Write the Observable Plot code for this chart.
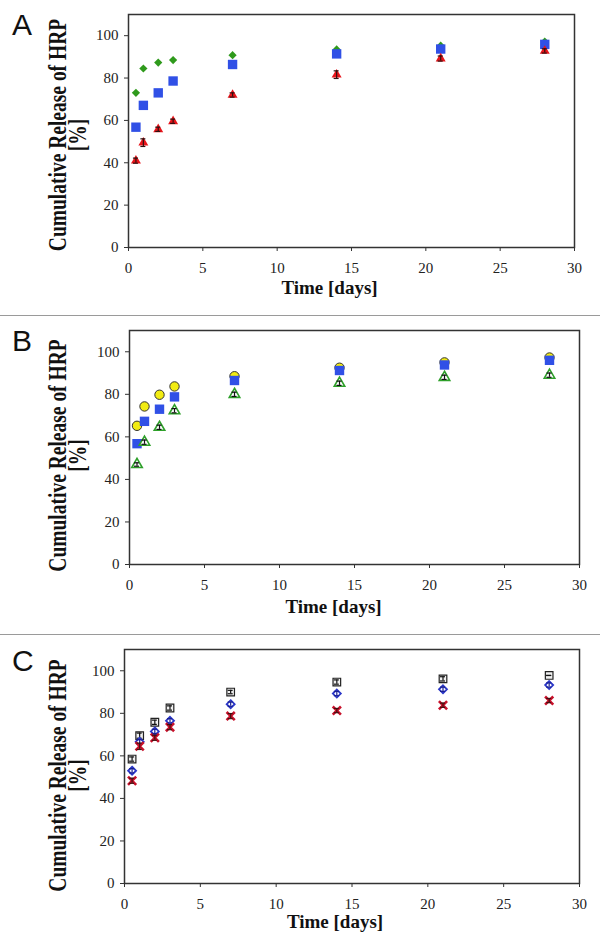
<!DOCTYPE html>
<html>
<head>
<meta charset="utf-8">
<script src="https://cdn.jsdelivr.net/npm/d3@7"></script>
<script src="https://cdn.jsdelivr.net/npm/@observablehq/plot@0.6"></script>
<style>
  body { margin: 0; background: white; }
  #root { position: relative; width: 600px; height: 952px; background: white; overflow: hidden; }
  .panel { position: absolute; left: 0; width: 600px; }
  .panel svg { display: block; }
  .panel svg text { font-family: "Liberation Serif", "Times New Roman", serif !important; }
  .lbl { position: absolute; left: 12px; font-family: "Liberation Sans", Arial, sans-serif; font-size: 30px; line-height: 30px; color: #111; }
  .sep { position: absolute; left: 0; width: 600px; height: 1px; background: #9a9a9a; }
</style>
</head>
<body>
<div id="root"></div>
<script>
// ---------- data ----------
const days = [0.5, 1, 2, 3, 7, 14, 21, 28];
const xTicks = [0, 5, 10, 15, 20, 25, 30];
const yTicks = [0, 20, 40, 60, 80, 100];
const xTitle = "Time [days]";
const yTitle = "Cumulative Release of HRP\n[%]";
const panelLabels = ["A", "B", "C"];

// Panel A
const aGreen = [73, 84.5, 87.3, 88.5, 90.8, 93.5, 95.3, 97.2];
const aBlue  = [56.8, 67.1, 73, 78.6, 86.4, 91.4, 93.7, 95.9];
const aRed   = [41, 49.5, 55.8, 59.6, 72, 81.6, 89.2, 92.8];
const aRedErr = [1.2, 1.8, 1, 1, 1, 1.8, 1.2, 1];

// Panel B
const bYellow = [65.2, 74.3, 79.8, 83.7, 88.5, 92.5, 95, 97.3];
const bBlue   = [56.8, 67.3, 73, 78.8, 86.5, 91.2, 93.8, 96];
const bGreen  = [47, 57.5, 64.5, 72.3, 80, 85.2, 88, 89];
const bGreenErr = [0.8, 1, 1, 1, 1, 1, 1, 1];

// Panel C
const cBlack = [58.5, 69.5, 75.8, 82.5, 90, 94.7, 96.2, 97.8];
const cBlue  = [53, 66.6, 71.5, 76.5, 84.3, 89.3, 91.3, 93.3];
const cRed   = [48.3, 64.5, 68.5, 73.5, 78.7, 81.3, 83.8, 86];
const cBlackErr = [1, 1.2, 1, 1, 0.8, 1, 1, 0];
const cBlueErr  = [1, 1, 1, 1, 1, 1, 1, 1];
const cRedErr   = [1.2, 1.5, 1.2, 1.2, 1.2, 1, 1, 1];

// ---------- helpers ----------
const SERIF = "'Liberation Serif', 'Times New Roman', serif";
const rows = (vals, err) => days.map((d, i) => ({x: d, y: vals[i], e: err ? err[i] : 0}));

function errMarks(data, color) {
  return [
    Plot.ruleX(data, {x: "x", y1: d => d.y - d.e, y2: d => d.y + d.e, stroke: color, strokeWidth: 1.2}),
    Plot.ruleY(data, {y: d => d.y + d.e, x1: "x", x2: "x", insetLeft: -2.5, insetRight: -2.5, stroke: color, strokeWidth: 1.2}),
    Plot.ruleY(data, {y: d => d.y - d.e, x1: "x", x2: "x", insetLeft: -2.5, insetRight: -2.5, stroke: color, strokeWidth: 1.2})
  ];
}

function makePanel(cfg) {
  const marks = [
    Plot.frame({stroke: "#333", strokeWidth: 1.5}),
    Plot.axisX({ticks: xTicks, tickSize: 4, tickPadding: 11, label: null, stroke: "#333", fontFamily: SERIF, fontSize: 15, fill: "#222"}),
    Plot.axisY({ticks: yTicks, tickSize: 4, tickPadding: 6, label: null, stroke: "#333", fontFamily: SERIF, fontSize: 15, fill: "#222"})
  ];
  for (const s of cfg.series) {
    marks.push(Plot.dot(s.data, {x: "x", y: "y", symbol: () => s.symbol, r: s.r, fill: s.fill, stroke: s.stroke, strokeWidth: s.strokeWidth || 0}));
    if (s.err) marks.push(...errMarks(s.data, s.errColor));
  }
  marks.push(Plot.text([xTitle], {text: d => d, frameAnchor: "bottom", textAnchor: "middle", dy: cfg.xTitleDy, dx: cfg.xTitleDx, fontWeight: "bold", fontSize: 19, fill: "#111", fontFamily: SERIF}));
  marks.push(Plot.text([yTitle], {text: d => d, frameAnchor: "left", textAnchor: "middle", lineAnchor: "middle", rotate: -90, dx: cfg.yTitleDx, dy: cfg.yTitleDy, fontWeight: "bold", fontSize: 19.5, lineHeight: 0.8, fill: "#111", fontFamily: SERIF, className: "ytitle"}));
  const svg = Plot.plot({
    width: 600,
    height: cfg.height,
    marginTop: cfg.mt, marginBottom: cfg.mb, marginLeft: cfg.ml, marginRight: cfg.mr,
    style: {fontFamily: SERIF, fontSize: "15px", color: "#222", background: "white"},
    x: {domain: [0, 30]},
    y: {domain: [0, 110]},
    marks
  });
  // stretch the rotated title's glyphs across (as in the reference)
  svg.querySelectorAll(".ytitle text").forEach(t => {
    const tr = t.getAttribute("transform") || "";
    t.setAttribute("transform", tr + " scale(1,1.3)");
  });
  return svg;
}

const panels = [
  {
    top: 0, height: 310, mt: 14, mb: 63, ml: 128, mr: 26, xTitleDy: 46, xTitleDx: -22, yTitleDx: -59, yTitleDy: 4, labelTop: 10,
    series: [
      {data: rows(aGreen), symbol: "diamond2", r: 3.7, fill: "#2f9a1c"},
      {data: rows(aBlue), symbol: "square", r: 5.3, fill: "#3050e6"},
      {data: rows(aRed, aRedErr), symbol: "triangle", r: 3.7, fill: "#e8141a", err: true, errColor: "#301010"}
    ]
  },
  {
    top: 317, height: 315, mt: 13, mb: 68, ml: 129, mr: 21, xTitleDy: 48, xTitleDx: -21, yTitleDx: -60, yTitleDy: 8, labelTop: 326,
    series: [
      {data: rows(bYellow), symbol: "circle", r: 4.7, fill: "#f2ec12", stroke: "#333", strokeWidth: 1},
      {data: rows(bBlue), symbol: "square", r: 5.3, fill: "#3050e6"},
      {data: rows(bGreen, bGreenErr), symbol: "triangle", r: 3.9, fill: "white", stroke: "#2ea02a", strokeWidth: 1.6, err: true, errColor: "#111"}
    ]
  },
  {
    top: 636, height: 316, mt: 13, mb: 69, ml: 124, mr: 21, xTitleDy: 44, xTitleDx: -17, yTitleDx: -55, yTitleDy: 9, labelTop: 646,
    series: [
      {data: rows(cBlack, cBlackErr), symbol: "square", r: 4.3, fill: "#f0f0f0", stroke: "#222", strokeWidth: 1.2, err: true, errColor: "#111"},
      {data: rows(cBlue, cBlueErr), symbol: "diamond2", r: 3.6, fill: "white", stroke: "#2a36c8", strokeWidth: 1.8, err: true, errColor: "#1a2090"},
      {data: rows(cRed, cRedErr), symbol: "times", r: 3.8, fill: "none", stroke: "#c8102a", strokeWidth: 2.6, err: true, errColor: "#401010"}
    ]
  }
];

const root = document.getElementById("root");
panels.forEach((p, i) => {
  const div = document.createElement("div");
  div.className = "panel";
  div.style.top = p.top + "px";
  div.appendChild(makePanel(p));
  root.appendChild(div);
  const lbl = document.createElement("div");
  lbl.className = "lbl";
  lbl.style.top = p.labelTop + "px";
  lbl.textContent = panelLabels[i];
  root.appendChild(lbl);
});
[315, 634].forEach(y => {
  const s = document.createElement("div");
  s.className = "sep";
  s.style.top = y + "px";
  root.appendChild(s);
});
</script>
</body>
</html>
